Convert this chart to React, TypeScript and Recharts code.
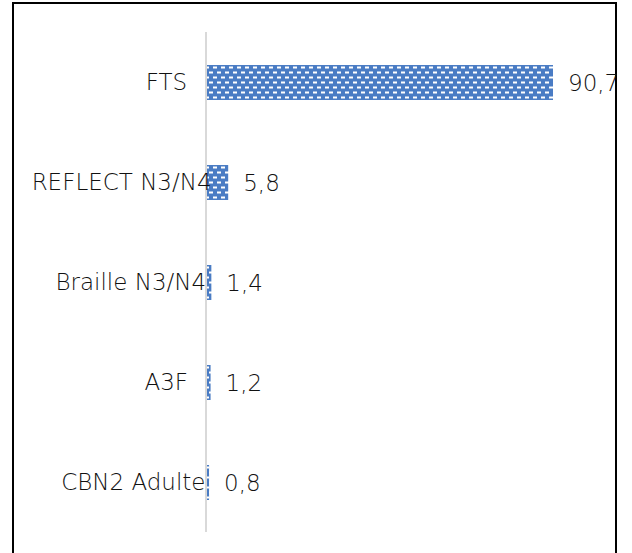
import { BarChart, Bar, XAxis, YAxis, LabelList } from 'recharts';

const dispositifs = ['FTS', 'REFLECT N3/N4', 'Braille N3/N4', 'A3F', 'CBN2 Adulte'];
const pourcentages = [90.7, 5.8, 1.4, 1.2, 0.8];

const data = dispositifs.map((name, i) => ({ name, value: pourcentages[i] }));

const font = '"DejaVu Sans", "Open Sans", sans-serif';
const layoutFont = '16px "Noto Sans CJK JP", sans-serif';

const formatValue = (v: any) => String(v).replace('.', ',');

let ctx: CanvasRenderingContext2D | null = null;
function measure(text: string) {
  if (!ctx) ctx = document.createElement('canvas').getContext('2d');
  if (!ctx) return text.length * 8;
  ctx.font = layoutFont;
  return ctx.measureText(text).width;
}

// labels are laid out with a narrow font and drawn centred on that box
function CategoryTick(props: any) {
  const { x, y, payload } = props;
  const w = measure(payload.value);
  return (
    <text
      x={x - 18 - w / 2}
      y={y}
      dy="0.35em"
      textAnchor="middle"
      fill="#111"
      fontSize={23}
      fontWeight={200}
      fontFamily={font}
    >
      {payload.value}
    </text>
  );
}

export default function App() {
  return (
    <div
      style={{
        position: 'absolute',
        left: 0,
        top: 0,
        width: 632,
        height: 553,
        background: '#fff',
        overflow: 'hidden',
      }}
    >
      <div
        style={{
          position: 'absolute',
          left: 12,
          top: 2,
          width: 601,
          height: 600,
          border: '2px solid #000',
        }}
      />
      <div style={{ position: 'absolute', left: 0, top: 0 }}>
        <BarChart
          width={632}
          height={553}
          data={data}
          layout="vertical"
          margin={{ top: 32, right: 79, bottom: 21, left: 0 }}
        >
          <defs>
            <pattern id="dashes" width="8" height="10" patternUnits="userSpaceOnUse">
              <rect width="8" height="10" fill="#4A7CC4" />
              <rect x="1" y="1.5" width="4" height="2" fill="#fff" />
              <rect x="5" y="6.5" width="4" height="2" fill="#fff" />
              <rect x="-3" y="6.5" width="4" height="2" fill="#fff" />
            </pattern>
          </defs>
          <XAxis type="number" hide domain={[0, 90.7]} />
          <YAxis
            type="category"
            dataKey="name"
            width={206}
            axisLine={{ stroke: '#D9D9D9', strokeWidth: 2 }}
            tickLine={false}
            tick={<CategoryTick />}
          />
          <Bar dataKey="value" fill="url(#dashes)" barSize={35} isAnimationActive={false}>
            <LabelList
              dataKey="value"
              position="right"
              offset={15}
              formatter={formatValue}
              style={{ fill: '#111', fontSize: 23, fontWeight: 200, fontFamily: font }}
            />
          </Bar>
        </BarChart>
      </div>
    </div>
  );
}
